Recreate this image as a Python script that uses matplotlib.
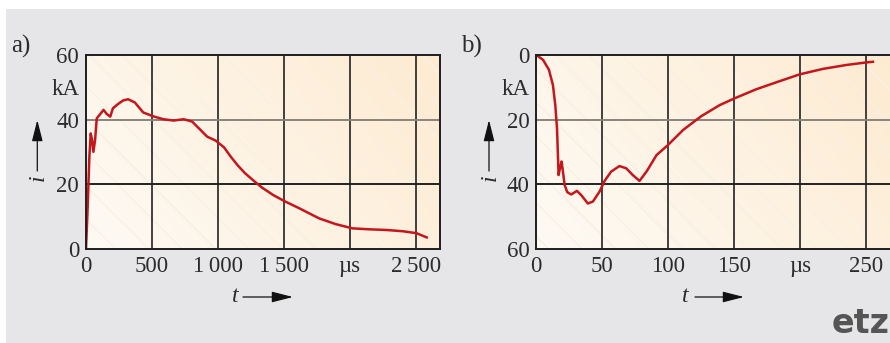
import numpy as np
import matplotlib
matplotlib.use("Agg")
import matplotlib.pyplot as plt
from matplotlib.patches import Rectangle

# panel a) long stroke current, t in us, i in kA
t_a = [0, 12.8, 25.5, 35.7, 45.9, 56.1, 68.9, 81.7, 102, 132.7, 158.2, 183.7, 204,
       242.4, 280.7, 319, 370, 433.8, 510.4, 587, 663.5, 740, 803.9, 867.7, 918.7,
       982.5, 1046.3, 1097.4, 1148.4, 1205, 1270, 1332, 1420, 1511, 1613, 1690,
       1767, 1894, 2021, 2150, 2277, 2404, 2506, 2583]
i_a = [0, 13.0, 28.5, 35.7, 33.7, 30.0, 33.7, 40.4, 41.4, 43.0, 41.7, 40.9, 43.5,
       44.8, 45.9, 46.3, 45.3, 42.2, 41.0, 40.1, 39.7, 40.1, 39.4, 36.8, 34.7, 33.5,
       31.4, 28.5, 25.9, 23.4, 21.1, 19.0, 16.6, 14.6, 12.6, 11.0, 9.4, 7.6, 6.3,
       6.0, 5.8, 5.4, 4.8, 3.5]

# panel b) first stroke (negative), t in us, i in kA
t_b = [0, 5.1, 9.6, 12.6, 14.4, 15.7, 16.4, 16.9, 18.2, 19.2, 20.2, 21.5, 23.5,
       26.5, 30.8, 34.1, 39.1, 42.9, 48, 51.8, 56.8, 63.1, 68.2, 73.2, 78.3, 83.6,
       91.2, 99.8, 111.4, 125.3, 139.2, 150.5, 166.9, 184.6, 199.7, 217.4, 235,
       250.2, 255.3]
i_b = [0, 1.5, 4.6, 9.3, 15.5, 22.7, 31, 37.2, 34.6, 33, 36.1, 40.3, 42.5, 43.2,
       42.1, 43.4, 46, 45.4, 42.3, 39, 36.1, 34.4, 35.1, 37.2, 39, 36.1, 31, 27.9,
       23.2, 18.9, 15.5, 13.4, 10.6, 8.1, 6, 4.3, 3.1, 2.3, 2.1]

xt_a = [0, 500, 1000, 1500, 2000, 2500]
xl_a = ["0", "500", "1\u2009000", "1\u2009500", "\u00b5s", "2\u2009500"]
xt_b = [0, 50, 100, 150, 200, 250]
xl_b = ["0", "50", "100", "150", "\u00b5s", "250"]

W, H = 890, 343
fig = plt.figure(figsize=(W / 100, H / 100), dpi=100, facecolor="white")
fig.patches.append(Rectangle((6 / W, 0), 1, (H - 9) / H, transform=fig.transFigure,
                             facecolor="#e6e6e8", edgecolor="none", zorder=-10))

serif = ["Liberation Serif", "DejaVu Serif"]
txt = "#2b2b2b"
red = "#c4161c"


def px(x, y):
    return x / W, 1 - y / H


def setup(ax, xmax, xt, xl, ylabels, ytick_pos, gray_y):
    # gradient background
    gx, gy = np.meshgrid(np.linspace(0, 1, 200), np.linspace(1, 0, 100))
    s = np.clip(0.7 * gx + 0.3 * gy, 0, 1)[..., None]
    c0 = np.array([254, 250, 244]) / 255
    c1 = np.array([253, 235, 209]) / 255
    img = c0 + (c1 - c0) * s
    ax.imshow(img, extent=(0, 1, 0, 1), transform=ax.transAxes, aspect="auto", zorder=0)
    ax.add_patch(Rectangle((0, 0), 1, 1, transform=ax.transAxes, facecolor="none",
                           edgecolor="#f9f0e4", hatch="\\", linewidth=0, zorder=0.5))
    for x in xt[1:]:
        ax.axvline(x, color="#222222", lw=1.2, zorder=1)
    for y in (20, 40):
        ax.axhline(y, color="#8a837c" if y == gray_y else "#222222", lw=1.4, zorder=1)
    ax.set_xlim(0, xmax)
    ax.set_xticks(xt)
    ax.set_xticklabels(xl, family=serif, fontsize=16.5, color=txt)
    ax.set_yticks(ytick_pos)
    ax.set_yticklabels(ylabels, family=serif, fontsize=16.5, color=txt)
    ax.tick_params(length=0, pad=5)
    for sp in ax.spines.values():
        sp.set_color("#1e1e1e")
        sp.set_linewidth(1.4)
        sp.set_zorder(3)


ax_a = fig.add_axes([86 / W, (H - 248.7) / H, 353.5 / W, 193.7 / H])
setup(ax_a, 2680, xt_a, xl_a, ["0", "20", "40", "kA", "60"], [0, 20, 40, 50, 60], 40)
ax_a.set_ylim(0, 60)
ax_a.plot(t_a, i_a, color=red, lw=1.8, zorder=2, solid_joinstyle="round")

ax_b = fig.add_axes([536.3 / W, (H - 248.7) / H, 356 / W, 193.7 / H])
setup(ax_b, 270, xt_b, xl_b, ["0", "kA", "20", "40", "60"], [0, 10, 20, 40, 60], 20)
ax_b.set_ylim(60, 0)
ax_b.plot(t_b, i_b, color=red, lw=1.8, zorder=2, solid_joinstyle="round")

# panel letters
fig.text(*px(11, 53), "a)", family=serif, fontsize=18, color=txt)
fig.text(*px(461, 53), "b)", family=serif, fontsize=18, color=txt)

# axis labels with arrows
ap = dict(arrowstyle="-|>,head_length=1.3,head_width=0.33", color="#111111", lw=0.9,
          shrinkA=0, shrinkB=0)
for xa in (37.3, 489):
    fig.text(*px(xa + 1, 178), "i", family=serif, style="italic", fontsize=17,
             color=txt, rotation=90, ha="center", va="center")
    ax_a.annotate("", xy=px(xa, 120), xytext=px(xa, 171), xycoords="figure fraction",
                  textcoords="figure fraction", arrowprops=ap)
for xt0, xa0, xa1 in ((235, 243, 293), (685, 695, 744)):
    fig.text(*px(xt0, 297), "t", family=serif, style="italic", fontsize=17,
             color=txt, ha="center", va="center")
    ax_a.annotate("", xy=px(xa1, 297), xytext=px(xa0, 297), xycoords="figure fraction",
                  textcoords="figure fraction", arrowprops=ap)

fig.text(*px(832, 333), "etz", family="DejaVu Sans", weight="bold", fontsize=24,
         color="#555555", ha="left", va="baseline")

fig.savefig("out.png", dpi=100, facecolor=fig.get_facecolor())
